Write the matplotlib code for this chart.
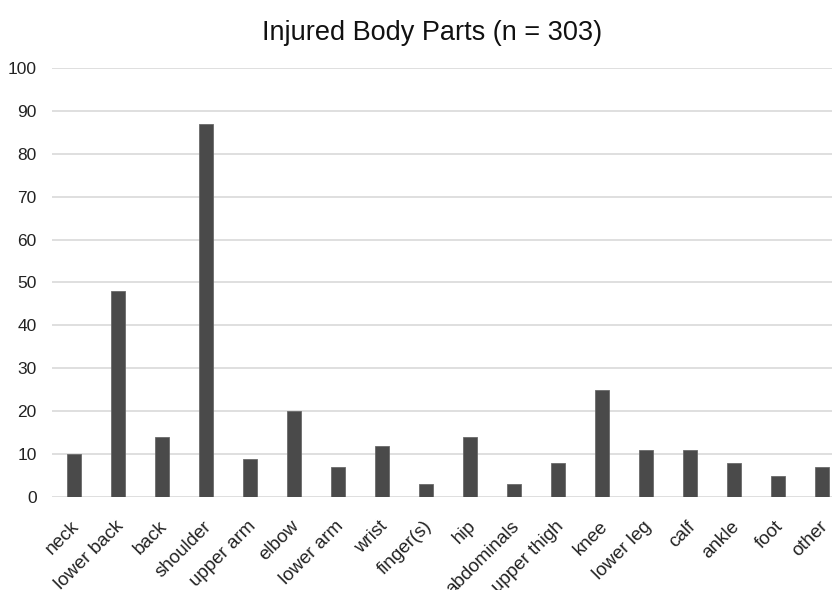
import numpy as np
import matplotlib.pyplot as plt
import matplotlib.transforms as mtransforms

plt.rcParams['font.family'] = ['Liberation Sans', 'DejaVu Sans']

body_parts = ["neck", "lower back", "back", "shoulder", "upper arm", "elbow",
              "lower arm", "wrist", "finger(s)", "hip", "abdominals",
              "upper thigh", "knee", "lower leg", "calf", "ankle", "foot", "other"]
counts = [10, 48, 14, 87, 9, 20, 7, 12, 3, 14, 3, 8, 25, 11, 11, 8, 5, 7]
y_ticks = list(range(0, 101, 10))

fig = plt.figure(figsize=(8.32, 5.9), dpi=100)
# axes runs slightly past the right edge, as in the (cropped) original
ax = fig.add_axes([52 / 832, 1 - 497.3 / 590, 792 / 832, (497.3 - 67.7) / 590])

x = np.arange(len(body_parts))
ax.bar(x, counts, width=0.32, color="#4a4a4a", edgecolor="#6a6a6a",
       linewidth=0.6, zorder=3)

ax.set_xlim(-0.5, len(body_parts) - 0.5)
ax.set_ylim(0, 100)
ax.set_yticks(y_ticks)
ax.yaxis.grid(True, color="#d9d9d9", linewidth=1.2, zorder=0)
ax.set_axisbelow(True)

for s in ax.spines.values():
    s.set_visible(False)

ax.tick_params(axis="both", length=0, colors="#222222")
ax.tick_params(axis="y", pad=11, labelsize=12.5)
ax.set_xticks(x)
ax.set_xticklabels(body_parts, rotation=45, ha="right", va="center",
                   rotation_mode="anchor", fontsize=13.5)
ax.tick_params(axis="x", pad=19)

# nudge the rotated labels a little to the right
shift = mtransforms.ScaledTranslation(3 / 100, 0, fig.dpi_scale_trans)
for lbl in ax.get_xticklabels():
    lbl.set_transform(lbl.get_transform() + shift)

fig.text(0.519, 0.944, "Injured Body Parts (n = 303)", ha="center",
         va="center", fontsize=19.5, color="#111111")

fig.savefig("out.png", dpi=100)
